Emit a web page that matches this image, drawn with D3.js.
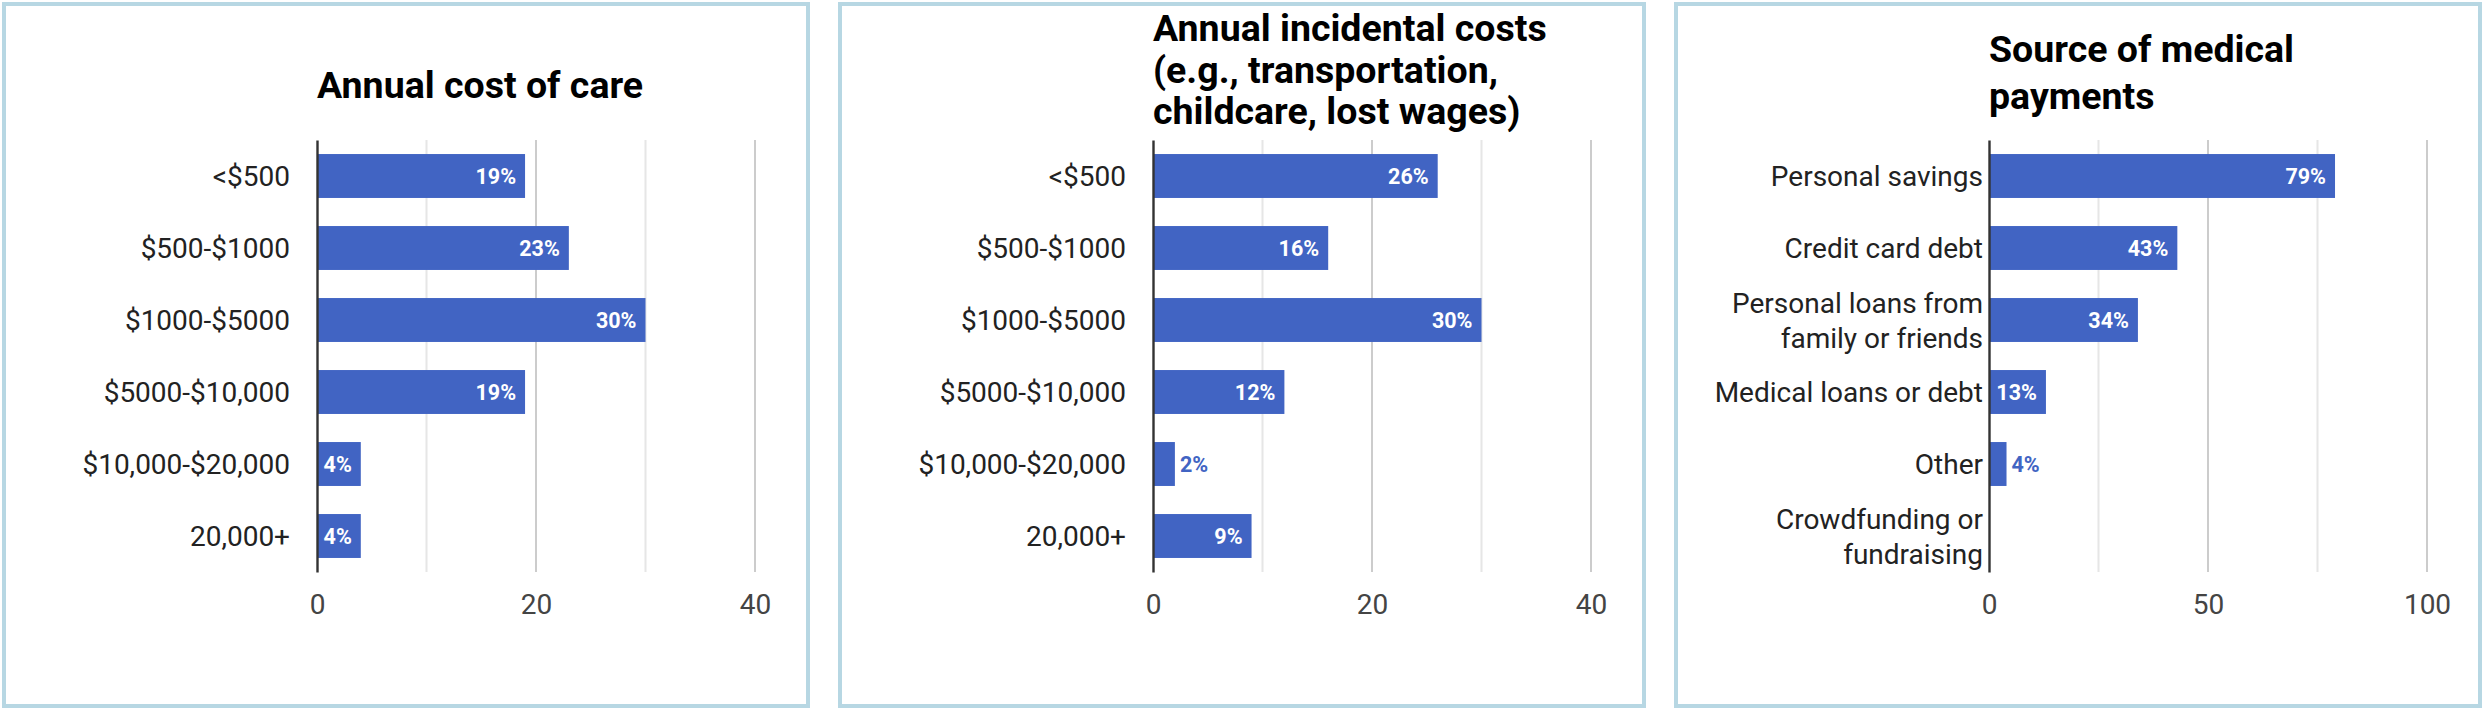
<!DOCTYPE html>
<html lang="en">
<head>
  <meta charset="UTF-8">
  <title>Costs of care</title>
  <script src="https://cdnjs.cloudflare.com/ajax/libs/d3/7.8.5/d3.min.js"></script>
  <style>
    body { margin: 0; background: #fff; }
    text { font-family: Roboto, "Noto Sans", sans-serif; }
  </style>
</head>
<body>
  <script>
var width = 2486,
    height = 714;

var blue = "#4164c3",
    frame = "#b7d7e3";

// data
var costCats = ["<$500", "$500-$1000", "$1000-$5000", "$5000-$10,000", "$10,000-$20,000", "20,000+"];
var careVals = [19, 23, 30, 19, 4, 4];
var incidentalVals = [26, 16, 30, 12, 2, 9];
var sourceCats = ["Personal savings", "Credit card debt", "Personal loans from family or friends",
                  "Medical loans or debt", "Other", "Crowdfunding or fundraising"];
var paymentVals = [79, 43, 34, 13, 4, 0];

var titles = [
  ["Annual cost of care"],
  ["Annual incidental costs", "(e.g., transportation,", "childcare, lost wages)"],
  ["Source of medical", "payments"]
];
var xMax = [40, 40, 100];
var xLabels = [[0, 20, 40], [0, 20, 40], [0, 50, 100]];
var xGrid = [[10, 20, 30, 40], [10, 20, 30, 40], [25, 50, 75, 100]];

var panels = [
  {cats: costCats, vals: careVals, titleY: 98, titleStep: 42, labelGap: 27},
  {cats: costCats, vals: incidentalVals, titleY: 41, titleStep: 41.5, labelGap: 27},
  {cats: sourceCats, vals: paymentVals, titleY: 61.5, titleStep: 47.5, labelGap: 6}
];

var svg = d3.select("body").append("svg")
    .attr("width", width)
    .attr("height", height);

var plotW = 438, plotH = 432;

panels.forEach(function(p, i) {
  var px = 2 + i * 836;
  var rows = p.cats.map(function(c, j) { return {cat: c, val: p.vals[j]}; });

  svg.append("rect")
      .attr("x", px + 2).attr("y", 4)
      .attr("width", 804).attr("height", 702)
      .attr("fill", "#fff")
      .attr("stroke", frame)
      .attr("stroke-width", 4);

  var g = svg.append("g").attr("transform", "translate(" + (px + 315) + ",140)");

  var x = d3.scaleLinear().domain([0, xMax[i]]).range([0, plotW]);
  var y = d3.scaleBand().domain(p.cats).range([0, plotH])
      .paddingInner(0.39).paddingOuter(0.195);

  // title
  var t = svg.append("text")
      .attr("font-size", "37.5px")
      .attr("font-weight", "bold")
      .attr("fill", "#000");
  titles[i].forEach(function(line, k) {
    t.append("tspan").attr("x", px + 315).attr("y", p.titleY + k * p.titleStep).text(line);
  });

  // gridlines
  g.selectAll(".grid")
      .data(xGrid[i])
    .enter().append("line")
      .attr("x1", function(d) { return x(d); })
      .attr("x2", function(d) { return x(d); })
      .attr("y1", 0).attr("y2", plotH)
      .attr("stroke", function(d) { return xLabels[i].indexOf(d) >= 0 ? "#cccccc" : "#e6e6e6"; })
      .attr("stroke-width", 2);

  // x tick labels
  var xAxis = g.append("g")
      .attr("transform", "translate(0," + plotH + ")")
      .call(d3.axisBottom(x).tickValues(xLabels[i]).tickSize(0).tickFormat(d3.format("d")));
  xAxis.select(".domain").remove();
  xAxis.selectAll("text")
      .attr("y", 42).attr("dy", null)
      .attr("font-size", "28px")
      .attr("font-family", "Roboto")
      .attr("fill", "#444");

  // bars
  g.selectAll(".bar")
      .data(rows)
    .enter().append("rect")
      .attr("x", 0)
      .attr("y", function(d) { return y(d.cat); })
      .attr("width", function(d) { return x(d.val); })
      .attr("height", y.bandwidth())
      .attr("fill", blue);

  // value labels: inside the bar if they fit, else just past its end
  g.selectAll(".val")
      .data(rows.filter(function(d) { return d.val > 0; }))
    .enter().append("text")
      .attr("y", function(d) { return y(d.cat) + y.bandwidth() / 2; })
      .attr("dy", "0.36em")
      .attr("font-size", "21.5px")
      .attr("font-weight", "bold")
      .text(function(d) { return d.val + "%"; })
      .each(function(d) {
        var el = d3.select(this);
        if (this.getComputedTextLength() + 14 <= x(d.val)) {
          el.attr("x", x(d.val) - 9).attr("text-anchor", "end").attr("fill", "#fff");
        } else {
          el.attr("x", x(d.val) + 5).attr("text-anchor", "start").attr("fill", blue);
        }
      });

  // y axis
  var yAxis = g.append("g")
      .call(d3.axisLeft(y).tickSize(0).tickPadding(p.labelGap));
  yAxis.select(".domain")
      .attr("stroke", "#333")
      .attr("stroke-width", 2.4);
  yAxis.selectAll("text")
      .attr("font-size", "28px")
      .attr("font-family", "Roboto")
      .attr("fill", "#222")
      .each(function() { wrap(d3.select(this), 280); });
});

function wrap(text, maxW) {
  var words = text.text().split(" ");
  var lines = [], line = [];
  text.text(null);
  var probe = text.append("tspan");
  words.forEach(function(w) {
    line.push(w);
    probe.text(line.join(" "));
    if (probe.node().getComputedTextLength() > maxW && line.length > 1) {
      line.pop();
      lines.push(line.join(" "));
      line = [w];
    }
  });
  lines.push(line.join(" "));
  probe.remove();
  var xPos = text.attr("x");
  var lh = 35;
  var start = -(lines.length - 1) * lh / 2;
  text.attr("dy", null);
  lines.forEach(function(l, k) {
    text.append("tspan")
        .attr("x", xPos)
        .attr("y", start + k * lh)
        .attr("dy", "0.36em")
        .text(l);
  });
}
  </script>
</body>
</html>
